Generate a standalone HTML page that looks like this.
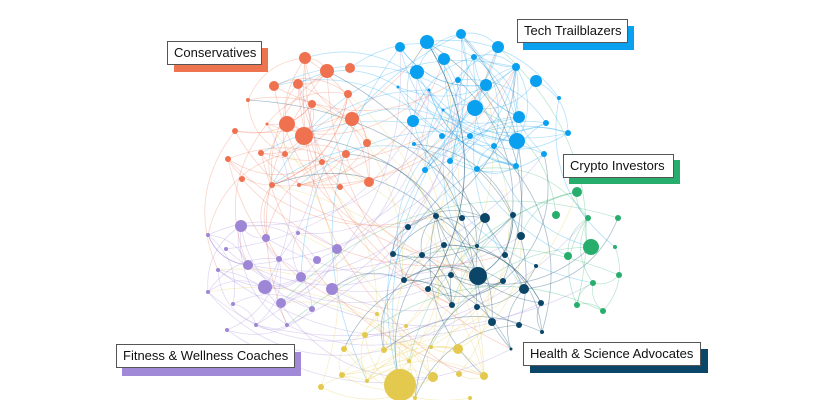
<!DOCTYPE html>
<html><head><meta charset="utf-8"><style>
html,body{margin:0;padding:0;background:#fff;width:840px;height:400px;overflow:hidden}
svg{position:absolute;left:0;top:0}
.lab{position:absolute;font-family:"Liberation Sans",sans-serif;font-size:13px;color:#111}
.lab .sh{position:absolute}
.lab .bx{position:absolute;background:#fff;border:1px solid #555;box-sizing:border-box;padding:0 6px;line-height:22px;white-space:nowrap}
</style></head><body>
<svg id="g" width="840" height="400" viewBox="0 0 840 400"></svg>
<div class="lab" style="left:0;top:0">
 <div class="sh" style="left:174px;top:48px;width:94px;height:24px;background:#ee7450"></div>
 <div class="bx" style="left:167px;top:41px;width:95px;height:24px">Conservatives</div>
 <div class="sh" style="left:523px;top:26px;width:111px;height:24px;background:#0aa0f0"></div>
 <div class="bx" style="left:517px;top:19px;width:111px;height:24px">Tech Trailblazers</div>
 <div class="sh" style="left:569px;top:160px;width:111px;height:24px;background:#27ae6d"></div>
 <div class="bx" style="left:563px;top:154px;width:111px;height:24px">Crypto Investors</div>
 <div class="sh" style="left:122px;top:352px;width:179px;height:24px;background:#a08ad8"></div>
 <div class="bx" style="left:116px;top:344px;width:179px;height:24px">Fitness &amp; Wellness Coaches</div>
 <div class="sh" style="left:530px;top:349px;width:178px;height:24px;background:#0b4668"></div>
 <div class="bx" style="left:523px;top:342px;width:178px;height:24px">Health &amp; Science Advocates</div>
</div>
<script>
var C={o:"#ef7150",b:"#0aa0f0",p:"#9e86d6",n:"#0b4668",g:"#27ae6d",y:"#e3c94d"};
var N={
o:[[305,58,6],[327,71,7],[350,68,5],[274,86,5],[298,84,5],[348,94,4],[312,104,4],[352,119,7],[287,124,8],[304,136,9],[267,124,1.5],[235,131,3],[261,153,3],[228,159,3],[285,154,3],[322,162,3],[367,143,4],[346,154,4],[369,182,5],[242,179,3],[272,185,3],[299,185,2],[340,187,3],[248,100,2]],
b:[[400,47,5],[427,42,7],[461,34,5],[498,47,6],[444,59,6],[474,57,3],[417,72,7],[458,80,3],[486,85,6],[516,67,4],[536,81,6],[475,108,8],[519,117,6],[517,141,8],[413,121,6],[442,136,3],[470,136,3],[494,146,3],[450,161,3],[477,169,3],[425,170,3],[414,144,2],[516,166,3],[546,123,3],[568,133,3],[544,154,3],[559,98,2],[398,87,1.5],[429,90,1.5],[443,110,1.5]],
p:[[241,226,6],[266,238,4],[208,235,2],[226,249,2],[248,265,5],[279,259,3],[298,233,2],[337,249,5],[317,260,4],[301,277,5],[332,289,6],[265,287,7],[281,303,5],[312,309,3],[218,270,2],[208,292,2],[233,304,2],[227,330,2],[256,325,2],[287,325,2]],
n:[[436,216,3],[462,218,3],[485,218,5],[513,215,3],[408,227,3],[521,236,4],[444,245,3],[477,246,2],[505,255,3],[393,254,3],[422,255,3],[478,276,9],[451,275,3],[503,281,3],[524,289,5],[536,266,2],[404,280,3],[428,289,3],[452,305,3],[477,307,3],[541,303,3],[492,322,4],[519,325,3],[542,332,2],[511,349,1.5]],
g:[[577,192,5],[556,215,4],[588,218,3],[618,218,3],[591,247,8],[568,256,4],[615,247,2],[619,275,3],[593,283,3],[577,305,3],[603,311,3]],
y:[[377,314,2],[406,326,2],[365,335,3],[431,347,2],[458,349,5],[344,349,3],[384,350,3],[409,361,2],[433,377,5],[459,374,3],[484,376,4],[342,375,3],[321,387,3],[367,381,2],[400,385,16],[415,398,2],[470,398,2]]
};
var s=12345;function r(){s=(s*16807)%2147483647;return s/2147483647;}
var svg=document.getElementById('g'),ns="http://www.w3.org/2000/svg",all=[];
for(var k in N)N[k].forEach(function(n){all.push([n[0],n[1],n[2],k]);});
var eg=document.createElementNS(ns,'g');svg.appendChild(eg);
for(var i=0;i<320;i++){
 var a=all[Math.floor(r()*all.length)],b;
 if(r()<0.5){var grp=N[a[3]];var q=grp[Math.floor(r()*grp.length)];b=[q[0],q[1]];}
 else{var q2=all[Math.floor(r()*all.length)];b=[q2[0],q2[1]];}
 var dx=b[0]-a[0],dy=b[1]-a[1],cx=(a[0]+b[0])/2-dy*0.3,cy=(a[1]+b[1])/2+dx*0.3;
 var p=document.createElementNS(ns,'path');
 p.setAttribute('d','M'+a[0]+' '+a[1]+'Q'+cx+' '+cy+' '+b[0]+' '+b[1]);
 p.setAttribute('fill','none');p.setAttribute('stroke',C[a[3]]);
 p.setAttribute('stroke-opacity',a[3]=='n'?0.35:0.3);p.setAttribute('stroke-width',0.8);
 eg.appendChild(p);
}
all.forEach(function(n){var c=document.createElementNS(ns,'circle');
 c.setAttribute('cx',n[0]);c.setAttribute('cy',n[1]);c.setAttribute('r',n[2]);c.setAttribute('fill',C[n[3]]);svg.appendChild(c);});
</script>
</body></html>
